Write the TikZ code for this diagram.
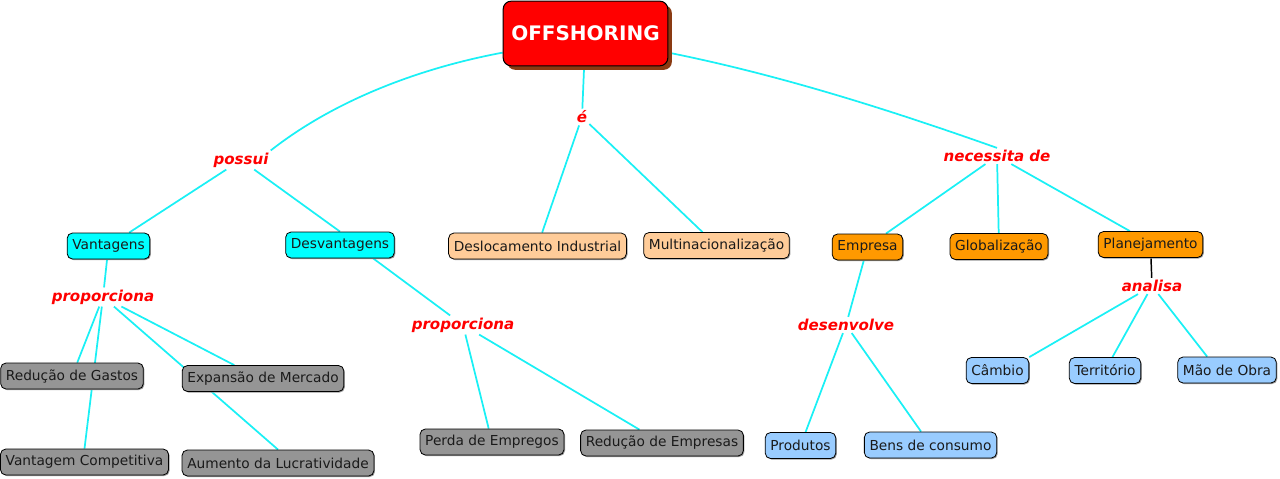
\documentclass[tikz,border=0pt]{standalone}
\usepackage{fontspec}
\setmainfont{DejaVu Sans}
\usetikzlibrary{shadows,backgrounds}
\definecolor{lncyan}{HTML}{1AF0F5}
\definecolor{fcyan}{HTML}{00FFFF}
\definecolor{fpeach}{HTML}{FFCC99}
\definecolor{forange}{HTML}{FF9900}
\definecolor{fgray}{HTML}{959595}
\definecolor{fblue}{HTML}{99CCFF}
\definecolor{fred}{HTML}{FF0000}
\definecolor{fbrown}{HTML}{8A3A12}
\definecolor{txt}{HTML}{1A1A1A}
\tikzset{
  concept/.style={draw=black, line width=0.6pt, rounded corners=4pt,
    minimum height=19.5pt, inner xsep=3.9pt, inner ysep=0pt,
    font=\fontsize{10.3}{12}\selectfont, text=txt,
    drop shadow={shadow xshift=0.8pt, shadow yshift=-0.8pt, fill=black!40, opacity=1}},
  cyanbox/.style={concept, fill=fcyan},
  peachbox/.style={concept, fill=fpeach},
  orangebox/.style={concept, fill=forange},
  graybox/.style={concept, fill=fgray},
  bluebox/.style={concept, fill=fblue},
  linkword/.style={text=fred, font=\fontsize{11.3}{13}\selectfont\bfseries\itshape, inner sep=1.5pt},
  conn/.style={draw=lncyan, line width=1.3pt},
  blackconn/.style={draw=black, line width=1.1pt}
}
\begin{document}
\begin{tikzpicture}[x=0.75pt, y=-0.75pt]
\useasboundingbox (0,0) rectangle (1280,478);
% title
\node[draw=black, line width=0.8pt, fill=fred, rounded corners=6pt,
  minimum width=123.5pt, minimum height=48.5pt, inner sep=0pt,
  text=white, font=\fontsize{15}{17}\selectfont\bfseries,
  drop shadow={shadow xshift=3pt, shadow yshift=-3pt, fill=fbrown, opacity=1}]
  (off) at (585.5,33.5) {OFFSHORING};
% linking words
\node[linkword] (possui) at (241,160) {possui};
\node[linkword] (e) at (582,117) {é};
\node[linkword] (nec) at (997,156) {necessita de};
\node[linkword] (prop1) at (103,297) {proporciona};
\node[linkword] (prop2) at (463,325) {proporciona};
\node[linkword] (desenv) at (846,325) {desenvolve};
\node[linkword] (anal) at (1152,286) {analisa};
% concepts
\node[cyanbox] (vant) at (108.5,246) {Vantagens};
\node[cyanbox] (desv) at (340,245) {Desvantagens};
\node[peachbox] (desl) at (537.5,246) {Deslocamento Industrial};
\node[peachbox] (multi) at (716.5,245.5) {Multinacionalização};
\node[orangebox] (emp) at (867.5,247) {Empresa};
\node[orangebox] (glob) at (999,246.5) {Globalização};
\node[orangebox] (plan) at (1150.5,244.5) {Planejamento};
\node[graybox] (rg) at (72,376) {Redução de Gastos};
\node[graybox] (exp) at (263,378.5) {Expansão de Mercado};
\node[graybox] (vc) at (84.5,462) {Vantagem Competitiva};
\node[graybox] (aum) at (278,463) {Aumento da Lucratividade};
\node[graybox] (perda) at (492,442) {Perda de Empregos};
\node[graybox] (redemp) at (662,443) {Redução de Empresas};
\node[bluebox] (prod) at (800.5,445.5) {Produtos};
\node[bluebox] (bens) at (930.5,445) {Bens de consumo};
\node[bluebox] (cam) at (997.5,370.5) {Câmbio};
\node[bluebox] (ter) at (1105,370.5) {Território};
\node[bluebox] (mao) at (1227,370) {Mão de Obra};
% connectors
\begin{pgfonlayer}{background}
\draw[conn] (off.193) .. controls (420,68) and (335,100) .. (possui.north east);
\draw[conn] (off.-13) .. controls (780,75) and (890,110) .. (nec.north);
\draw[conn] (off) -- (e);
\draw[conn] (e) -- (desl);
\draw[conn] (e) -- (multi);
\draw[conn] (possui) -- (vant);
\draw[conn] (possui) -- (desv.north);
\draw[conn] (nec) -- (emp.36);
\draw[conn] (nec) -- (glob);
\draw[conn] (nec) -- (plan.147);
\draw[conn] (vant) -- (prop1);
\draw[conn] (prop1) -- (rg);
\draw[conn] (prop1) -- (vc.north);
\draw[conn] (prop1) -- (exp.155);
\draw[conn] (prop1) -- (aum.north);
\draw[conn] (desv.-22) -- (prop2);
\draw[conn] (prop2) -- (perda);
\draw[conn] (prop2) -- (redemp);
\draw[conn] (emp) -- (desenv);
\draw[conn] (desenv) -- (prod);
\draw[conn] (desenv) -- (bens);
\draw[blackconn] (plan) -- (anal);
\draw[conn] (anal) -- (cam.north east);
\draw[conn] (anal) -- (ter);
\draw[conn] (anal) -- (mao.146);
\end{pgfonlayer}
\end{tikzpicture}
\end{document}
